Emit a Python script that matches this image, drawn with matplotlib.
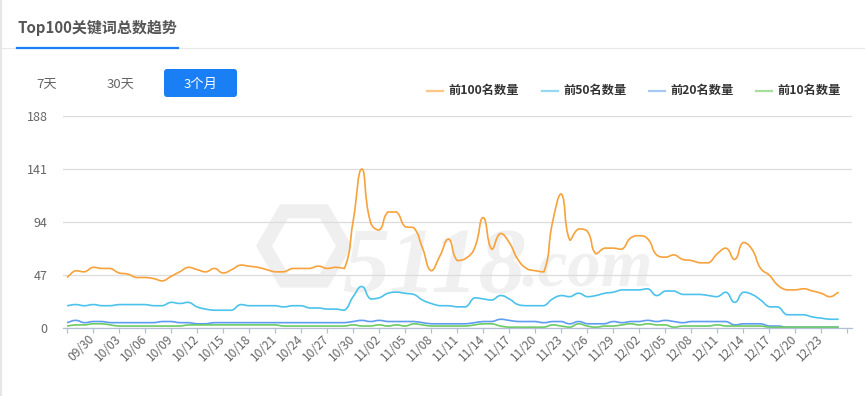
"""Top100 keyword count trend (3 months) - recreated line chart."""
import numpy as np
import pandas as pd
import matplotlib
matplotlib.use('Agg')
import matplotlib.pyplot as plt
from matplotlib.path import Path
from matplotlib.patches import PathPatch, FancyBboxPatch, RegularPolygon
from matplotlib.lines import Line2D

plt.rcParams['font.family'] = ['Noto Sans CJK SC', 'DejaVu Sans']

# ---- data ----
dates = list(pd.date_range('2023-09-27', '2023-12-26').strftime('%m/%d'))
series_names = ['前100名数量', '前50名数量', '前20名数量', '前10名数量']
top100 = [45, 51, 50, 54, 53, 53, 49, 48, 45, 45, 44, 42, 46, 50, 54, 52, 50, 53, 49, 52,
          56, 55, 54, 52, 50, 50, 53, 53, 53, 55, 53, 54, 53, 95, 141, 94, 87, 103, 103, 90,
          89, 71, 51, 64, 79, 60, 62, 71, 98, 70, 84, 76, 61, 53, 51, 50, 94, 119, 78, 88,
          86, 66, 71, 71, 70, 80, 82, 79, 65, 63, 65, 61, 60, 58, 58, 66, 71, 61, 76, 70,
          53, 47, 38, 34, 34, 35, 33, 31, 28, 32]
top50 = [20, 21, 20, 21, 20, 20, 21, 21, 21, 21, 20, 20, 23, 22, 23, 19, 17, 16, 16, 16,
         21, 20, 20, 20, 20, 19, 20, 20, 18, 18, 17, 17, 16, 28, 37, 26, 27, 31, 32, 31,
         30, 25, 22, 20, 20, 19, 19, 27, 26, 25, 29, 26, 21, 20, 20, 20, 26, 29, 28, 31,
         28, 29, 31, 32, 34, 34, 34, 35, 29, 33, 33, 30, 30, 30, 29, 28, 32, 23, 32, 30,
         25, 19, 19, 12, 12, 12, 10, 9, 8, 8]
top20 = [5, 7, 5, 6, 6, 5, 5, 5, 5, 5, 5, 6, 6, 5, 5, 4, 4, 5, 5, 5,
         5, 5, 5, 5, 5, 5, 5, 5, 5, 5, 5, 5, 5, 6, 7, 6, 7, 6, 6, 6,
         6, 5, 4, 4, 4, 4, 4, 5, 6, 6, 8, 7, 6, 6, 6, 5, 6, 6, 4, 6,
         4, 4, 4, 6, 5, 6, 6, 7, 6, 7, 6, 5, 6, 6, 6, 6, 6, 3, 4, 4,
         4, 2, 2, 1, 1, 1, 1, 1, 1, 1]
top10 = [2, 3, 3, 4, 4, 3, 2, 2, 2, 2, 2, 2, 2, 2, 3, 3, 3, 3, 3, 3,
         3, 3, 3, 3, 3, 2, 2, 2, 2, 2, 2, 2, 2, 3, 2, 2, 3, 2, 3, 2,
         4, 3, 2, 2, 2, 2, 2, 3, 4, 4, 2, 1, 1, 1, 1, 1, 3, 2, 1, 4,
         2, 1, 2, 2, 3, 4, 3, 4, 3, 3, 1, 2, 2, 2, 2, 3, 2, 2, 2, 2,
         2, 1, 1, 1, 1, 1, 1, 1, 1, 1]
yticks = [0, 47, 94, 141, 188]

line_colors = ['#F7A23A', '#4CC2EC', '#5E9DF0', '#6CCB64']
legend_colors = ['#FBC883', '#94D8F1', '#A7C8F4', '#A8DE9D']

W, H = 865, 396


def P(px, py):
    # pixel (from top-left) -> inches for dpi_scale_trans
    return px / 100, (H - py) / 100


def smooth_path(y, sx=8.67, sy=1.119, smooth=0.5):
    # echarts-like bezier smoothing, control points clamped to neighbours
    x = np.arange(len(y)) * sx
    yy = np.asarray(y, float) * sy
    n = len(y)
    fwd, bwd = [], []
    for i in range(n):
        pi = max(i - 1, 0); ni = min(i + 1, n - 1)
        vx, vy = x[ni] - x[pi], yy[ni] - yy[pi]
        lp = np.hypot(x[i] - x[pi], yy[i] - yy[pi])
        ln = np.hypot(x[ni] - x[i], yy[ni] - yy[i])
        r = ln / (ln + lp) if ln + lp > 0 else 0.5
        f = np.array([x[i] + vx * smooth * r, yy[i] + vy * smooth * r])
        b = np.array([x[i] - vx * smooth * (1 - r), yy[i] - vy * smooth * (1 - r)])
        f = np.clip(f, np.minimum([x[i], yy[i]], [x[ni], yy[ni]]), np.maximum([x[i], yy[i]], [x[ni], yy[ni]]))
        b = np.clip(b, np.minimum([x[i], yy[i]], [x[pi], yy[pi]]), np.maximum([x[i], yy[i]], [x[pi], yy[pi]]))
        fwd.append(f); bwd.append(b)
    verts = [(x[0], yy[0])]
    codes = [Path.MOVETO]
    for i in range(n - 1):
        verts += [tuple(fwd[i]), tuple(bwd[i + 1]), (x[i + 1], yy[i + 1])]
        codes += [Path.CURVE4] * 3
    verts = np.array(verts) / [sx, sy]
    return Path(verts, codes)


fig = plt.figure(figsize=(W / 100, H / 100), dpi=100)
ax = fig.add_axes([62.7 / W, 1 - 328.3 / H, (851.7 - 62.7) / W, (328.3 - 116) / H])
ax.set_facecolor('none')

# watermark
ax.text(*P(343, 292), '5118', transform=fig.dpi_scale_trans, fontsize=68, style='italic',
        fontweight='bold', family='Liberation Serif', color='#f0f0f0', zorder=0, clip_on=False)
ax.text(*P(522, 286), '.com', transform=fig.dpi_scale_trans, fontsize=48, style='italic',
        fontweight='bold', family='Liberation Serif', color='#f0f0f0', zorder=0, clip_on=False)
ax.add_patch(RegularPolygon(P(304, 246), 6, radius=0.4, orientation=np.pi / 6, fill=False,
                            ec='#efefef', lw=10, transform=fig.dpi_scale_trans, zorder=0, clip_on=False))

for vals, c in zip([top100, top50, top20, top10], line_colors):
    ax.add_patch(PathPatch(smooth_path(vals), fill=False, ec=c, lw=1.2, zorder=3))

ax.set_xlim(-0.5, len(dates) - 0.5)
ax.set_ylim(0, 188)
ax.set_yticks(yticks)
ax.set_yticklabels([str(v) for v in yticks])
ax.yaxis.grid(True, color='#dcdcdc', lw=0.9)
ax.set_axisbelow(True)
for s in ['top', 'right', 'left']:
    ax.spines[s].set_visible(False)
ax.spines['bottom'].set_color('#b3c0d4')
ax.spines['bottom'].set_linewidth(0.9)
ax.spines['bottom'].set_zorder(4)
ax.tick_params(axis='y', length=0, pad=11, labelsize=9, labelcolor='#666666')

tick_idx = list(range(0, len(dates), 3))
ax.set_xticks(tick_idx)
ax.set_xticklabels(['' if i in (0, len(dates) - 1) else dates[i] for i in tick_idx])
ax.tick_params(axis='x', length=3.6, width=0.9, color='#b3c0d4', pad=2.5,
               labelsize=8.6, labelcolor='#666666')
for lab in ax.get_xticklabels():
    lab.set_rotation(45)
    lab.set_ha('right')
    lab.set_va('center')
    lab.set_rotation_mode('anchor')

# ---- header ----
t = fig.dpi_scale_trans
fig.text(*P(17, 28), 'Top100关键词总数趋势', transform=t, fontsize=10.8, fontweight='bold',
         color='#555555', va='center', ha='left')
fig.add_artist(Line2D([0, W / 100], [(H - 48.3) / 100] * 2, transform=t, color='#e8e8e8', lw=0.8))
fig.add_artist(Line2D([0.17, 1.78], [(H - 47.5) / 100] * 2, transform=t, color='#1a7ff5', lw=1.6))
fig.add_artist(Line2D([0.01, 0.01], [0, H / 100], transform=t, color='#e6e6e6', lw=1.6))

fig.text(*P(47, 84), '7天', transform=t, fontsize=9.5, color='#666666', ha='center', va='center')
fig.text(*P(121, 84), '30天', transform=t, fontsize=9.5, color='#666666', ha='center', va='center')
fig.add_artist(FancyBboxPatch(P(164, 97), 0.73, 0.28, boxstyle='round,pad=0,rounding_size=0.03',
                              transform=t, fc='#1a7ff5', ec='none'))
fig.text(*P(200.5, 84), '3个月', transform=t, fontsize=9.5, color='white', ha='center', va='center')

# ---- legend ----
leg_x = [427, 542, 649, 756]
for name, c, lx in zip(series_names, legend_colors, leg_x):
    fig.add_artist(Line2D([lx / 100, (lx + 16) / 100], [(H - 90.5) / 100] * 2, transform=t, color=c, lw=1.6))
    fig.text(*P(lx + 21, 90.5), name, transform=t, fontsize=8.8, fontweight='bold',
             color='#333333', ha='left', va='center')

fig.savefig('out.png', dpi=100)
